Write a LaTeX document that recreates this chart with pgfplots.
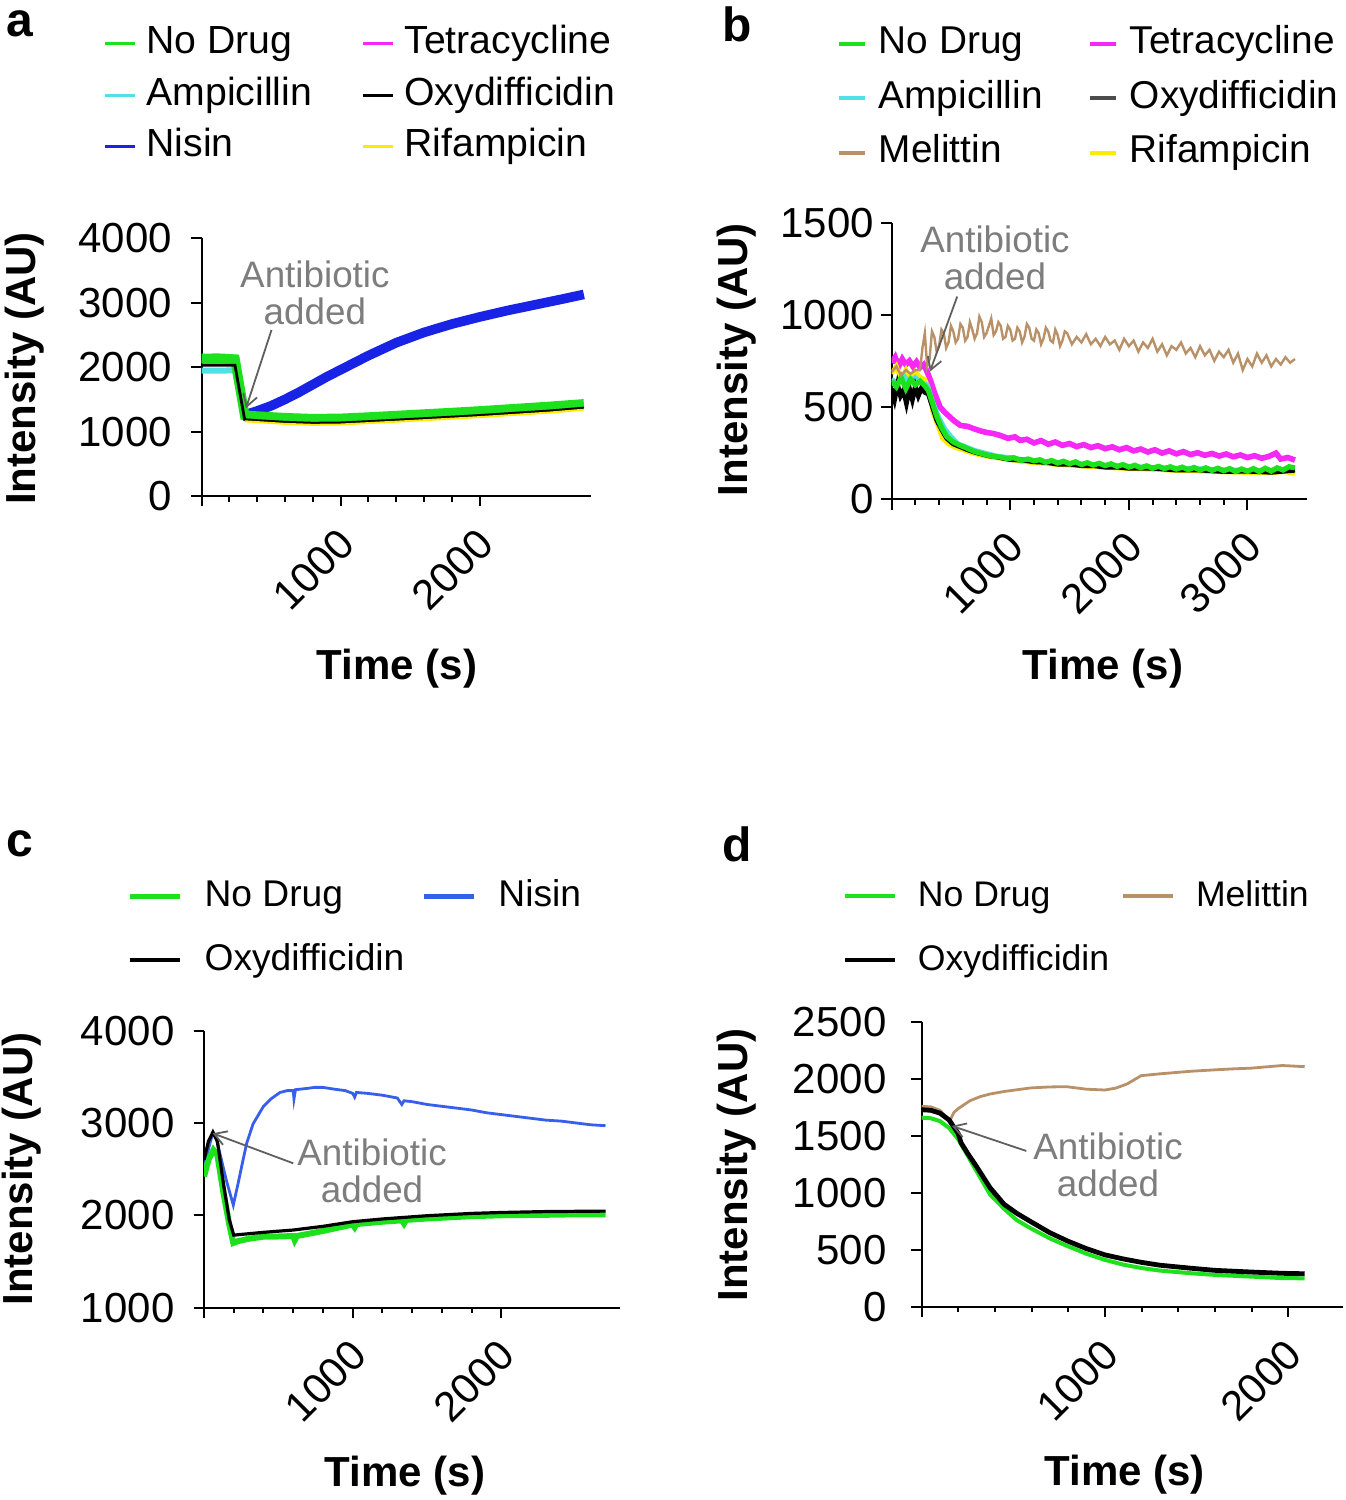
\documentclass[border=0pt]{standalone}
\usepackage{fontspec}
\setmainfont{Liberation Sans}
\usepackage{pgfplots}
\pgfplotsset{compat=1.18}
\usetikzlibrary{arrows.meta}

\definecolor{cgreen}{RGB}{30,225,30}
\definecolor{ccyan}{RGB}{80,225,230}
\definecolor{cblueA}{RGB}{25,35,230}
\definecolor{cblueC}{RGB}{55,95,235}
\definecolor{cmag}{RGB}{245,40,245}
\definecolor{cyel}{RGB}{250,235,0}
\definecolor{cbrown}{RGB}{185,145,105}
\definecolor{cgtext}{RGB}{125,125,125}
\definecolor{carrow}{RGB}{95,95,95}

\tikzset{
  annot/.style={cgtext, align=center, font=\fontsize{9.2}{9.25}\selectfont},
  arr/.style={carrow, line width=0.45pt, -{Straight Barb[length=3pt,width=3.6pt]}},
}
\pgfplotsset{
  panel/.style={
    scale only axis,
    axis lines=left,
    axis line style={-, line width=0.5pt, black},
    tick align=outside,
    major tick length=2.6pt,
    minor tick length=1.4pt,
    tick style={line width=0.5pt, black},
    tick label style={font=\fontsize{10.5}{12}\selectfont, inner sep=0pt},
    xticklabel style={xshift=1.6pt, rotate=45, anchor=east},
    xticklabel shift=7.4pt,
    yticklabel shift=4.6pt,
    /pgf/number format/assume math mode=true,
    scaled ticks=false,
    label style={font=\bfseries\fontsize{10.5}{12}\selectfont},
    xlabel={Time (s)},
    ylabel={Intensity (AU)},
    legend columns=2,
    legend cell align=left,
    legend style={draw=none, fill=none, inner sep=0pt,
      nodes={inner sep=0pt, text height=7pt, text depth=2pt}},
  },
}

\begin{document}
\begin{tikzpicture}
\path[use as bounding box] (0pt,0pt) rectangle (336.5pt,375pt);

% ---------------- panel a ----------------
\begin{axis}[panel, at={(50.4pt,251pt)}, anchor=south west,
  width=97.3pt, height=64.4pt,
  xmin=0, xmax=2800, ymin=0, ymax=4000,
  xtick={0,1000,2000}, xticklabels={,1000,2000}, minor x tick num=4,
  ytick={0,1000,2000,3000,4000}, yticklabels={0,1000,2000,3000,4000},
  xlabel style={at={(axis description cs:0.502,-0.67)}, anchor=center},
  ylabel style={at={(axis description cs:-0.454,0.495)}, anchor=center},
  legend style={at={(axis description cs:-0.2536,1.556)}, anchor=west,
    font=\fontsize{9.8}{11}\selectfont, row sep=3.9pt,
    /tikz/every odd column/.append style={column sep=2.4pt},
    /tikz/every even column/.append style={column sep=12.4pt}},
  legend image code/.code={\draw[#1] (0pt,0pt) -- (7.5pt,0pt);},
]
\addlegendimage{cgreen, line width=0.8pt}\addlegendentry{No Drug}
\addlegendimage{cmag, line width=0.8pt}\addlegendentry{Tetracycline}
\addlegendimage{ccyan, line width=0.8pt}\addlegendentry{Ampicillin}
\addlegendimage{black, line width=0.8pt}\addlegendentry{Oxydifficidin}
\addlegendimage{cblueA, line width=0.8pt}\addlegendentry{Nisin}
\addlegendimage{cyel, line width=0.8pt}\addlegendentry{Rifampicin}

% Nisin
\addplot[forget plot, cblueA, line width=2.4pt] coordinates {
(310,1260) (400,1320) (500,1400) (600,1500) (700,1610) (800,1730) (900,1850)
(1000,1960) (1100,2070) (1200,2180) (1400,2380) (1600,2540) (1800,2670)
(2000,2780) (2200,2880) (2400,2970) (2600,3060) (2750,3130)};
% Tetracycline
\addplot[forget plot, cmag, line width=0.8pt] coordinates {
(0,2080) (240,2080) (300,1300) (320,1280) (800,1200) (2000,1320) (2750,1420)};
% Ampicillin
\addplot[forget plot, ccyan, line width=1.5pt] coordinates {
(0,1945) (240,1950) (310,1230) (600,1190) (1000,1180) (1500,1230) (2000,1290) (2750,1400)};
% No Drug
\addplot[forget plot, cgreen, line width=2.4pt] coordinates {
(0,2135) (120,2140) (240,2125) (310,1255) (400,1240) (600,1215) (800,1200)
(1000,1205) (1200,1225) (1500,1260) (1800,1295) (2000,1320) (2250,1355)
(2500,1390) (2750,1430)};
% Oxydifficidin
\addplot[forget plot, black, line width=0.7pt] coordinates {
(0,2030) (240,2030) (310,1185) (400,1170) (600,1145) (800,1130) (1000,1135)
(1200,1155) (1500,1190) (1800,1225) (2000,1250) (2250,1285) (2500,1320) (2750,1365)};
% Rifampicin
\addplot[forget plot, cyel, line width=0.5pt] coordinates {
(310,1160) (600,1120) (800,1105) (1000,1110) (1500,1165) (2000,1225) (2500,1295) (2750,1340)};

\node[annot] at (axis cs:815,3150) {Antibiotic\\added};
\draw[arr] (axis cs:503,2578) -- (axis cs:319,1362);
\end{axis}

% ---------------- panel b ----------------
\begin{axis}[panel, at={(222.9pt,250.2pt)}, anchor=south west,
  width=103.8pt, height=69.15pt,
  xmin=0, xmax=3500, ymin=0, ymax=1500,
  xtick={0,1000,2000,3000}, xticklabels={,1000,2000,3000}, minor x tick num=4,
  ytick={0,500,1000,1500}, yticklabels={0,500,1000,1500},
  yticklabel shift=1.6pt,
  xlabel style={at={(axis description cs:0.509,-0.612)}, anchor=center},
  ylabel style={at={(axis description cs:-0.373,0.504)}, anchor=center},
  legend style={at={(axis description cs:-0.134,1.45)}, anchor=west,
    font=\fontsize{9.7}{11}\selectfont, row sep=4.6pt,
    /tikz/every odd column/.append style={column sep=3pt},
    /tikz/every even column/.append style={column sep=11.3pt}},
  legend image code/.code={\draw[#1] (0pt,0pt) -- (6.5pt,0pt);},
]
\addlegendimage{cgreen, line width=1pt}\addlegendentry{No Drug}
\addlegendimage{cmag, line width=1pt}\addlegendentry{Tetracycline}
\addlegendimage{ccyan, line width=1pt}\addlegendentry{Ampicillin}
\addlegendimage{black!70, line width=1pt}\addlegendentry{Oxydifficidin}
\addlegendimage{cbrown, line width=1pt}\addlegendentry{Melittin}
\addlegendimage{cyel, line width=1pt}\addlegendentry{Rifampicin}

% Tetracycline
\addplot[forget plot, cmag, line width=1.4pt] coordinates {
(0,740) (30,770) (60,720) (90,760) (120,730) (150,750) (180,720) (210,745)
(240,715) (270,730) (300,690) (330,640) (360,580) (408,500) (450,470) (521,428)
(580,400) (640,395) (690,383) (750,370) (800,362) (859,356) (920,345) (980,330)
(1040,338) (1084,319) (1140,325) (1200,305) (1260,318) (1320,298) (1380,310)
(1440,292) (1500,302) (1560,285) (1620,296) (1680,280) (1740,290) (1800,274)
(1860,284) (1920,268) (1980,280) (2040,262) (2100,272) (2160,256) (2220,268)
(2280,250) (2340,262) (2400,246) (2460,258) (2520,242) (2580,252) (2640,238)
(2700,248) (2760,234) (2820,245) (2880,230) (2940,240) (3000,226) (3060,236)
(3120,222) (3180,232) (3240,250) (3280,218) (3340,226) (3400,212)};
% Rifampicin
\addplot[forget plot, cyel, line width=1.2pt] coordinates {
(0,680) (40,720) (80,650) (120,700) (160,640) (200,690) (240,660) (280,650)
(310,600) (350,470) (390,400) (430,330) (480,300) (540,280) (600,268) (680,250)
(760,238) (840,230) (920,222) (1000,215) (1100,205) (1200,198) (1300,193)
(1400,188) (1500,184) (1600,180) (1800,172) (2000,166) (2200,162) (2400,156)
(2600,152) (2800,148) (3000,145) (3200,142) (3300,150) (3400,140)};
% Ampicillin
\addplot[forget plot, ccyan, line width=1.2pt] coordinates {
(0,650) (50,630) (100,670) (150,640) (200,660) (250,630) (300,620) (350,520)
(400,440) (450,380) (500,340) (560,300) (620,285) (700,265) (800,248) (900,232)
(1000,226) (1100,215) (1200,210) (1300,202) (1400,198) (1600,190) (1800,183)
(2000,178) (2200,172) (2400,168) (2600,165) (2800,160) (3000,156) (3200,158) (3400,165)};
% Oxydifficidin
\addplot[forget plot, black, line width=1.2pt] coordinates {
(0,600) (25,540) (50,620) (75,560) (100,590) (125,520) (150,600) (175,540)
(200,610) (225,560) (250,600) (280,580) (310,570) (350,490) (380,430) (420,380)
(465,330) (520,300) (577,285) (640,268) (700,255) (760,245) (820,235) (880,230)
(940,222) (1000,215) (1100,212) (1200,203) (1300,200) (1400,190) (1500,190)
(1600,182) (1700,182) (1800,174) (1900,174) (2000,168) (2200,168) (2400,158)
(2600,158) (2800,150) (3000,152) (3200,146) (3400,157)};
% No Drug
\addplot[forget plot, cgreen, line width=1.3pt] coordinates {
(0,640) (40,610) (80,660) (120,600) (160,650) (200,620) (240,640) (280,615)
(310,590) (350,510) (380,450) (420,390) (465,340) (520,310) (577,292) (640,275)
(700,258) (746,250) (800,240) (860,232) (920,228) (972,220) (1030,225) (1090,210)
(1150,218) (1200,208) (1250,214) (1300,200) (1350,210) (1400,196) (1450,206)
(1500,192) (1550,203) (1600,188) (1650,198) (1700,185) (1750,195) (1800,182)
(1850,192) (1900,178) (1950,188) (2000,174) (2050,184) (2100,170) (2150,181)
(2200,168) (2250,178) (2300,166) (2350,176) (2400,163) (2450,174) (2500,160)
(2550,172) (2600,158) (2650,170) (2700,156) (2750,168) (2800,154) (2850,166)
(2900,150) (2950,164) (3000,152) (3050,166) (3100,150) (3150,168) (3200,152)
(3250,170) (3300,158) (3350,176) (3400,170)};
% Melittin
\addplot[forget plot, cbrown, line width=0.6pt] coordinates {
(0,690) (40,720) (80,670) (120,700) (160,680) (200,700) (240,700) (260,820)
(280,900) (300,720) (320,760) (340,910) (360,880) (380,800) (400,830) (420,920)
(440,900) (460,820) (480,850) (500,940) (520,910) (540,850) (560,870) (580,950)
(600,930) (620,860) (640,880) (660,960) (680,920) (700,870) (720,900) (740,990)
(760,960) (780,880) (800,900) (820,940) (840,980) (860,890) (880,910) (900,960)
(920,940) (940,870) (960,880) (980,940) (1000,920) (1020,860) (1040,870) (1060,930)
(1080,910) (1100,850) (1120,880) (1140,950) (1160,930) (1180,870) (1200,860)
(1220,920) (1240,900) (1260,840) (1280,870) (1300,930) (1320,910) (1340,860)
(1360,850) (1380,920) (1400,890) (1420,830) (1440,860) (1460,910) (1480,900)
(1520,840) (1560,880) (1600,850) (1640,895) (1680,840) (1720,870) (1760,830)
(1800,880) (1840,840) (1880,860) (1920,810) (1960,870) (2000,830) (2040,860)
(2080,800) (2120,850) (2160,820) (2200,870) (2240,800) (2280,840) (2320,780)
(2360,830) (2400,810) (2440,850) (2480,790) (2520,820) (2560,770) (2600,830)
(2640,780) (2680,810) (2720,750) (2760,800) (2800,770) (2840,810) (2880,740)
(2920,790) (2960,700) (3000,760) (3040,720) (3080,790) (3120,740) (3160,780)
(3200,720) (3240,760) (3280,730) (3320,770) (3360,740) (3400,760)};

\node[annot] at (axis cs:871,1310) {Antibiotic\\added};
\draw[arr] (axis cs:553,1099) -- (axis cs:323,692);
\end{axis}

% ---------------- panel c ----------------
\begin{axis}[panel, at={(51pt,48.1pt)}, anchor=south west,
  width=104.1pt, height=69.25pt,
  xmin=0, xmax=2800, ymin=1000, ymax=4000,
  xtick={0,1000,2000}, xticklabels={,1000,2000}, minor x tick num=4,
  ytick={1000,2000,3000,4000}, yticklabels={1000,2000,3000,4000},
  xlabel style={at={(axis description cs:0.483,-0.605)}, anchor=center},
  ylabel style={at={(axis description cs:-0.437,0.5)}, anchor=center},
  legend style={at={(axis description cs:-0.185,1.37)}, anchor=west,
    font=\fontsize{9.3}{11}\selectfont, row sep=7pt,
    /tikz/every odd column/.append style={column sep=5.5pt},
    /tikz/every even column/.append style={column sep=4.3pt}},
  legend image code/.code={\draw[#1] (0pt,0pt) -- (12.5pt,0pt);},
]
\addlegendimage{cgreen, line width=1.2pt}\addlegendentry{No Drug}
\addlegendimage{cblueC, line width=1.2pt}\addlegendentry{Nisin}
\addlegendimage{black, line width=1pt}\addlegendentry{Oxydifficidin}

% Nisin
\addplot[forget plot, cblueC, line width=0.7pt] coordinates {
(0,2500) (20,2650) (40,2780) (58,2880) (80,2850) (110,2650) (150,2380) (197,2110)
(230,2350) (260,2580) (287,2780) (330,2990) (399,3177) (450,3260) (511,3330)
(560,3350) (600,3350) (605,3260) (615,3360) (700,3375) (744,3385) (800,3385)
(879,3365) (950,3350) (1000,3320) (1013,3280) (1025,3330) (1100,3320) (1200,3300)
(1300,3270) (1330,3200) (1345,3240) (1400,3230) (1500,3200) (1600,3180) (1700,3160)
(1800,3140) (1900,3110) (2000,3090) (2100,3070) (2200,3050) (2300,3030) (2400,3020)
(2500,3000) (2600,2980) (2700,2970)};
% No Drug
\addplot[forget plot, cgreen, line width=1.5pt] coordinates {
(0,2420) (30,2600) (63,2707) (90,2650) (130,2250) (170,1900) (197,1700) (230,1720)
(300,1745) (399,1768) (500,1770) (600,1775) (610,1730) (625,1775) (800,1830)
(1000,1900) (1013,1870) (1025,1905) (1200,1930) (1330,1945) (1345,1910) (1360,1950)
(1500,1965) (1800,1990) (2000,2000) (2300,2005) (2500,2010) (2700,2010)};
% Oxydifficidin
\addplot[forget plot, black, line width=0.8pt] coordinates {
(0,2600) (30,2800) (60,2900) (90,2800) (130,2350) (170,1950) (200,1785) (300,1800)
(400,1815) (600,1840) (800,1880) (1000,1930) (1200,1960) (1500,1995) (1800,2020)
(2000,2030) (2300,2040) (2700,2045)};

\node[annot] at (axis cs:1130,2480) {Antibiotic\\added};
\draw[arr] (axis cs:600,2563) -- (axis cs:58,2888);
\end{axis}

% ---------------- panel d ----------------
\begin{axis}[panel, at={(230.4pt,48.3pt)}, anchor=south west,
  width=105.4pt, height=71.2pt,
  xmin=0, xmax=2300, ymin=0, ymax=2500,
  xtick={0,1000,2000}, xticklabels={,1000,2000}, minor x tick num=4,
  ytick={0,500,1000,1500,2000,2500}, yticklabels={0,500,1000,1500,2000,2500},
  yticklabel shift=6pt,
  xlabel style={at={(axis description cs:0.482,-0.59)}, anchor=center},
  ylabel style={at={(axis description cs:-0.438,0.498)}, anchor=center},
  legend style={at={(axis description cs:-0.188,1.33)}, anchor=west,
    font=\fontsize{8.9}{11}\selectfont, row sep=7pt,
    /tikz/every odd column/.append style={column sep=5.2pt},
    /tikz/every even column/.append style={column sep=3pt}},
  legend image code/.code={\draw[#1] (0pt,0pt) -- (12.5pt,0pt);},
]
\addlegendimage{cgreen, line width=1pt}\addlegendentry{No Drug}
\addlegendimage{cbrown, line width=1pt}\addlegendentry{Melittin}
\addlegendimage{black, line width=1pt}\addlegendentry{Oxydifficidin}

% Melittin
\addplot[forget plot, cbrown, line width=0.7pt] coordinates {
(0,1760) (50,1755) (100,1725) (154,1632) (176,1706) (200,1740) (264,1809) (320,1845)
(374,1868) (450,1890) (520,1905) (593,1921) (700,1930) (791,1932) (900,1910)
(1000,1903) (1060,1920) (1121,1956) (1198,2029) (1300,2045) (1473,2068) (1600,2080)
(1692,2088) (1800,2095) (1967,2118) (2090,2108)};
% No Drug
\addplot[forget plot, cgreen, line width=1.0pt] coordinates {
(0,1660) (50,1655) (100,1630) (150,1570) (200,1470) (250,1330) (300,1190) (374,985)
(450,860) (520,760) (593,691) (700,600) (800,530) (900,465) (1000,412) (1100,370)
(1200,340) (1300,318) (1473,294) (1600,280) (1800,265) (1967,252) (2090,250)};
% Oxydifficidin
\addplot[forget plot, black, line width=1.2pt] coordinates {
(0,1730) (50,1725) (100,1700) (150,1640) (200,1520) (215,1440) (250,1350) (300,1230)
(374,1044) (450,900) (520,820) (593,750) (700,650) (800,575) (900,510) (1000,456)
(1100,420) (1200,390) (1300,365) (1473,338) (1600,320) (1800,305) (1967,294) (2090,290)};

\node[annot] at (axis cs:1017,1244) {Antibiotic\\added};
\draw[arr] (axis cs:571,1368) -- (axis cs:165,1588);
\end{axis}

% panel letters
\node[font=\bfseries\fontsize{12}{14}\selectfont] at (5pt,369pt) {a};
\node[font=\bfseries\fontsize{12}{14}\selectfont] at (184.25pt,369pt) {b};
\node[font=\bfseries\fontsize{12}{14}\selectfont] at (5pt,164pt) {c};
\node[font=\bfseries\fontsize{12}{14}\selectfont] at (184.25pt,164pt) {d};
\end{tikzpicture}
\end{document}
